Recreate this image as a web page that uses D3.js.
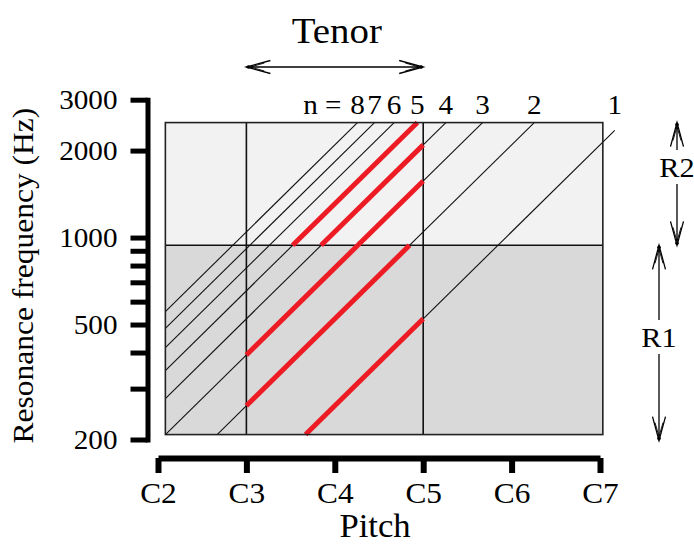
<!DOCTYPE html>
<html>
<head>
<meta charset="utf-8">
<script src="https://cdn.jsdelivr.net/npm/d3@7"></script>
<style>
  html, body { margin: 0; padding: 0; background: #fff; }
  svg { display: block; font-family: "Liberation Serif", "Times New Roman", serif; }
</style>
</head>
<body>
<svg id="chart" width="694" height="545"></svg>
<script>
// Pitch axis: note names and their fundamental frequencies (Hz)
const pitchNames = ["C2", "C3", "C4", "C5", "C6", "C7"];
const pitchFreqs = [65.41, 130.81, 261.63, 523.25, 1046.5, 2093.0];

// Resonance frequency axis (Hz)
const freqTicks = [200, 300, 400, 500, 600, 700, 800, 900, 1000, 2000, 3000];
const freqLabels = [200, 500, 1000, 2000, 3000];

// Harmonic numbers: resonance frequency = n * f0
const harmonics = [1, 2, 3, 4, 5, 6, 7, 8];

// Plot frame: fundamental span and resonance span (Hz)
const frameF0 = [69.3, 2140];
const frameF = [208, 2500];
const lineF0Max = 2350;

// Vocal tract resonance regions (Hz)
const regionNames = ["R1", "R2"];
const regionLow = [208, 940];
const regionHigh = [940, 2500];

// Tenor range (C3 to C5) and the harmonics each resonance tunes to
const tenorRange = [130.81, 523.25];
const tunedHarmonics = [[1, 2, 3], [3, 4, 5]];

const svg = d3.select("#chart");
const WIDE = 1.08; // horizontal widening of the serif lettering

const x = d3.scaleLog().base(2).domain([pitchFreqs[0], pitchFreqs[5]]).range([158, 600]);
const y = d3.scaleLog().domain([200, 3000]).range([439.5, 99.7]);

// text helper: places a label at (tx, ty) with optional rotation and widening
function label(parent, tx, ty, str, size, anchor, rotate, sx) {
  const rot = rotate ? ` rotate(${rotate})` : "";
  return parent.append("text")
    .attr("transform", `translate(${tx},${ty})${rot} scale(${sx || WIDE},1)`)
    .attr("text-anchor", anchor || "middle")
    .attr("font-size", size)
    .attr("fill", "#000")
    .text(str);
}
// widen axis tick labels in place
function widen(sel) {
  sel.each(function () {
    const t = d3.select(this);
    const tx = +t.attr("x") || 0, ty = +t.attr("y") || 0;
    t.attr("x", 0).attr("y", 0).attr("transform", `translate(${tx},${ty}) scale(${WIDE},1)`);
  });
}

// ---- frame with the two resonance bands ----
const plot = svg.append("g");
const regionFill = ["#d9d9d9", "#f2f2f2"];
regionNames.forEach((name, i) => {
  plot.append("rect")
    .attr("x", x(frameF0[0]))
    .attr("y", y(regionHigh[i]))
    .attr("width", x(frameF0[1]) - x(frameF0[0]))
    .attr("height", y(regionLow[i]) - y(regionHigh[i]))
    .attr("fill", regionFill[i]);
});

// tenor limits and band boundary
tenorRange.forEach(f => {
  plot.append("line")
    .attr("x1", x(f)).attr("x2", x(f))
    .attr("y1", y(frameF[0])).attr("y2", y(frameF[1]))
    .attr("stroke", "#111").attr("stroke-width", 1.6);
});
plot.append("line")
  .attr("x1", x(frameF0[0])).attr("x2", x(frameF0[1]))
  .attr("y1", y(regionHigh[0])).attr("y2", y(regionHigh[0]))
  .attr("stroke", "#111").attr("stroke-width", 1.6);

// ---- harmonic lines f = n * f0 ----
const line = d3.line().x(d => x(d.f0)).y(d => y(d.f));
const harmonicSpan = n => {
  const a = Math.max(frameF0[0], frameF[0] / n);
  const b = Math.min(lineF0Max, frameF[1] / n);
  return [a, b];
};
harmonics.forEach(n => {
  const [a, b] = harmonicSpan(n);
  plot.append("path")
    .attr("d", line([{ f0: a, f: a * n }, { f0: b, f: b * n }]))
    .attr("fill", "none")
    .attr("stroke", "#111")
    .attr("stroke-width", 1.1);
});

// ---- harmonics tuned by R1 / R2 within the tenor range ----
regionNames.forEach((name, r) => {
  tunedHarmonics[r].forEach(n => {
    const a = Math.max(tenorRange[0], regionLow[r] / n);
    const b = Math.min(tenorRange[1], regionHigh[r] / n);
    plot.append("path")
      .attr("d", line([{ f0: a, f: a * n }, { f0: b, f: b * n }]))
      .attr("fill", "none")
      .attr("stroke", "#ed1c24")
      .attr("stroke-width", 5);
  });
});

// frame border on top
plot.append("rect")
  .attr("x", x(frameF0[0]))
  .attr("y", y(frameF[1]))
  .attr("width", x(frameF0[1]) - x(frameF0[0]))
  .attr("height", y(frameF[0]) - y(frameF[1]))
  .attr("fill", "none")
  .attr("stroke", "#222")
  .attr("stroke-width", 1.6);

// ---- harmonic number labels ----
const nLabelY = 114;
harmonics.forEach(n => {
  const [, b] = harmonicSpan(n);
  label(svg, x(b), nLabelY, n, 27);
});
label(svg, x(harmonicSpan(8)[1]) - 16, nLabelY, "n =", 27, "end");

// ---- axes ----
const yAxis = d3.axisLeft(y)
  .tickValues(freqTicks)
  .tickSize(17)
  .tickSizeOuter(0)
  .tickPadding(13)
  .tickFormat(d => freqLabels.includes(d) ? d : "");
const gy = svg.append("g").attr("transform", "translate(147.5,0)").call(yAxis);
gy.select(".domain").attr("stroke-width", 5).attr("stroke-linecap", "square");
gy.selectAll(".tick line").attr("stroke-width", 5);
gy.selectAll(".tick text").attr("font-size", 27).attr("font-family", "Liberation Serif").attr("fill", "#000")
  .attr("dy", null).attr("y", 9).call(widen);

const xAxis = d3.axisBottom(x)
  .tickValues(pitchFreqs)
  .tickSize(15)
  .tickSizeOuter(0)
  .tickPadding(9)
  .tickFormat((d, i) => pitchNames[i]);
const gx = svg.append("g").attr("transform", "translate(0,458)").call(xAxis);
gx.select(".domain").attr("stroke-width", 6);
gx.selectAll(".tick line").attr("stroke-width", 6);
gx.selectAll(".tick text").attr("font-size", 29).attr("font-family", "Liberation Serif").attr("fill", "#000")
  .attr("dy", null).attr("y", 45).call(widen);

// axis titles
label(svg, (x(pitchFreqs[0]) + x(pitchFreqs[5])) / 2 - 4, 537, "Pitch", 33, "middle", 0, 1.05);
label(svg, 33, (y(200) + y(3000)) / 2 + 6, "Resonance frequency (Hz)", 30, "middle", -90, 1.05);

// ---- double-headed range arrows ----
function arrowHead(g, tx, ty, dx, dy) {
  // open head pointing along (dx, dy)
  const len = 24, half = 6.5;
  const px = -dy, py = dx;
  g.append("path")
    .attr("d", `M${tx - dx * len + px * half},${ty - dy * len + py * half}L${tx},${ty}L${tx - dx * len - px * half},${ty - dy * len - py * half}`)
    .attr("fill", "none").attr("stroke", "#000").attr("stroke-width", 1.3);
  g.append("path")
    .attr("d", `M${tx - dx * (len - 6) + px * 4},${ty - dy * (len - 6) + py * 4}L${tx - dx * 4},${ty - dy * 4}L${tx - dx * (len - 6) - px * 4},${ty - dy * (len - 6) - py * 4}`)
    .attr("fill", "none").attr("stroke", "#000").attr("stroke-width", 0.9);
  g.append("circle").attr("cx", tx - dx * 2).attr("cy", ty - dy * 2).attr("r", 1.8).attr("fill", "#000");
}

// Tenor arrow
const ann = svg.append("g");
const tenorY = 67;
ann.append("line")
  .attr("x1", x(tenorRange[0])).attr("x2", x(tenorRange[1]))
  .attr("y1", tenorY).attr("y2", tenorY)
  .attr("stroke", "#000").attr("stroke-width", 1.3);
arrowHead(ann, x(tenorRange[0]), tenorY, -1, 0);
arrowHead(ann, x(tenorRange[1]), tenorY, 1, 0);
label(ann, (x(tenorRange[0]) + x(tenorRange[1])) / 2 + 2, 43, "Tenor", 36);

// R1 / R2 arrows
const regionX = [659, 677];
regionNames.forEach((name, i) => {
  const top = y(regionHigh[i]);
  const bottom = y(regionLow[i]) + (i === 0 ? 6 : 0);
  const mid = (top + bottom) / 2 + (i === 0 ? -6 : -17);
  const gap = 17;
  ann.append("line")
    .attr("x1", regionX[i]).attr("x2", regionX[i])
    .attr("y1", top).attr("y2", mid - gap)
    .attr("stroke", "#000").attr("stroke-width", 1.3);
  ann.append("line")
    .attr("x1", regionX[i]).attr("x2", regionX[i])
    .attr("y1", mid + gap).attr("y2", bottom)
    .attr("stroke", "#000").attr("stroke-width", 1.3);
  arrowHead(ann, regionX[i], top, 0, -1);
  arrowHead(ann, regionX[i], bottom, 0, 1);
  label(ann, regionX[i], mid + 10, name, 28);
});
</script>
</body>
</html>
